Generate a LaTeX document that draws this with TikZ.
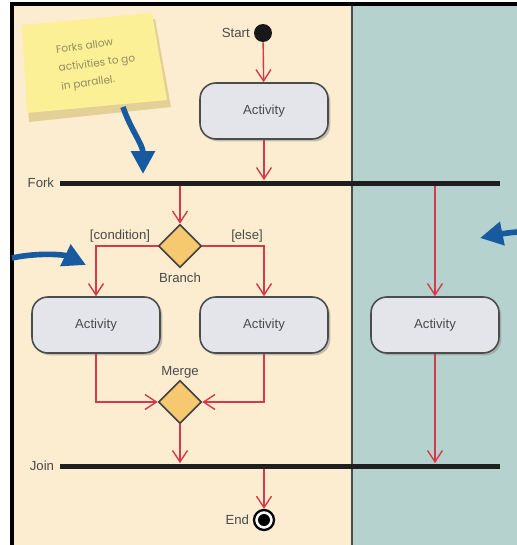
\documentclass[tikz,border=0pt]{standalone}
\usepackage{fontspec}
\setmainfont{Liberation Sans}
\newfontfamily\notefont{Poppins}
\usetikzlibrary{arrows.meta,shadows,shapes.geometric,positioning}

\definecolor{lanebeige}{RGB}{252,236,208}
\definecolor{laneteal}{RGB}{181,210,207}
\definecolor{flowred}{RGB}{214,58,74}
\definecolor{boxgray}{RGB}{228,229,234}
\definecolor{diamondyel}{RGB}{246,200,112}
\definecolor{noteyel}{RGB}{252,240,150}
\definecolor{noteshade}{RGB}{226,208,150}
\definecolor{noteblue}{RGB}{24,90,160}
\definecolor{labelgray}{RGB}{75,75,75}
\definecolor{noteink}{RGB}{150,140,95}

\begin{document}
\begin{tikzpicture}[x=0.02cm,y=-0.02cm,font=\fontsize{7.5}{9}\selectfont]
\tikzstyle{activity} = [draw=black!70,line width=0.9pt,fill=boxgray,rounded corners=9pt,minimum width=2.56cm,minimum height=1.12cm,text=labelgray,drop shadow={shadow xshift=1.3pt,shadow yshift=-1.3pt,fill=black!45}]
\tikzstyle{decision} = [draw=black!75,line width=0.9pt,fill=diamondyel,diamond,aspect=1,minimum size=0.86cm,inner sep=0pt]
\tikzstyle{bar} = [fill=black!88,rectangle,minimum width=8.8cm,minimum height=0.1cm,inner sep=0pt]
\tikzstyle{flow} = [draw=flowred,line width=0.8pt,-{Straight Barb[length=6.5pt,width=8.5pt]}]
\tikzstyle{callout} = [draw=noteblue,line width=3.2pt,-{Triangle[length=13pt,width=13pt]}]
\tikzstyle{tag} = [text=labelgray,inner sep=1pt]

\useasboundingbox (0,0) rectangle (517,545);
\fill[lanebeige] (12,4) rectangle (352,545);
\fill[laneteal] (352,4) rectangle (517,545);
\draw[black!70,line width=0.6pt] (352,4) -- (352,545);
\draw[black,line width=2.4pt] (12,545) -- (12,4) -- (517,4);

\fill[noteshade] (24,32) -- (155,19) -- (171,107) -- (29,122) -- cycle;
\fill[noteyel] (22,25) -- (152,13) -- (167,100) -- (27,113) -- cycle;
\node[rotate=8,align=left,inner sep=0pt,text=noteink,font=\notefont\fontsize{6}{10.5}\selectfont] (notetext) at (97,64) {Forks allow\\activities to go\\in parallel.};
\coordinate (notetail) at (123,107);

\node[circle,fill=black!90,minimum size=0.36cm,inner sep=0pt] (start) at (263,33) {};
\node[tag,left=1pt of start] (startlabel) {Start};
\node[activity] (act1) at (264,111) {Activity};
\node[bar] (fork) at (280,183) {};
\node[tag,left=2pt of fork] (forklabel) {Fork};

\node[decision] (branch) at (180,246) {};
\node[tag] (condlabel) at (120,236) {[condition]};
\node[tag] (elselabel) at (247,236) {[else]};
\node[tag] (branchlabel) at (180,278) {Branch};

\node[activity] (act2) at (96,325) {Activity};
\node[activity] (act3) at (264,325) {Activity};
\node[activity] (act4) at (435,325) {Activity};

\node[decision] (merge) at (180,402) {};
\node[tag] (mergelabel) at (180,372) {Merge};
\node[bar] (join) at (280,466) {};
\node[tag,left=2pt of join] (joinlabel) {Join};

\node[circle,draw=black,line width=1.3pt,fill=white,minimum size=0.4cm,inner sep=0pt,
  path picture={\fill[black] (path picture bounding box.center) circle (0.12cm);}] (endnode) at (264,520) {};
\node[tag,left=1pt of endnode] (endlabel) {End};

\draw[flow] (start) -- (act1);
\draw[flow] (act1) -- (act1 |- fork.north);
\draw[flow] (fork.south -| branch) -- (branch);
\draw[flow] (fork.south -| act4) -- (act4);
\draw[flow] (branch.west) -| (act2);
\draw[flow] (branch.east) -| (act3);
\draw[flow] (act2) |- (merge.west);
\draw[flow] (act3) |- (merge.east);
\draw[flow] (merge) -- (merge |- join.north);
\draw[flow] (act4) -- (act4 |- join.north);
\draw[flow] (join.south -| endnode) -- (endnode);

\draw[callout] (notetail) .. controls (130,128) and (143,145) .. (143,174);
\draw[callout] (12,258) .. controls (40,252) and (65,255) .. (86,265);
\draw[callout] (517,232) .. controls (505,233) and (495,235) .. (480,238);
\end{tikzpicture}
\end{document}
